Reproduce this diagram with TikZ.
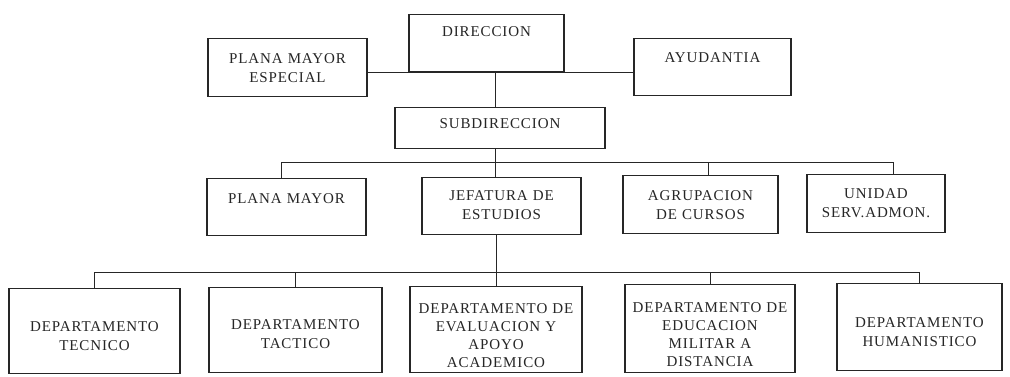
\documentclass[tikz,border=0pt]{standalone}
\usepackage{fontspec}
\setmainfont{Liberation Serif}
\newfontfamily\orgfont[LetterSpace=6]{Liberation Serif}
\definecolor{ink}{HTML}{262626}
\tikzset{
  orgbox/.style={draw=ink, line width=1.2pt, inner sep=0pt, align=center, anchor=north,
    text=ink, font=\orgfont\fontsize{15}{18.5}\selectfont},
  tight/.style={font=\orgfont\fontsize{15}{18}\selectfont},
  link/.style={draw=ink, line width=1pt}
}
\begin{document}
\begin{tikzpicture}[x=1pt,y=-1pt]
\fill[white] (0,0) rectangle (1010,377);
\useasboundingbox (0,0) rectangle (1010,377);

% top level
\node[orgbox, text width=155pt, text height=22pt, text depth=35pt] (dir) at (486.5,14) {DIRECCION};
\node[orgbox, text width=159pt, text height=25pt, text depth=33pt] (pme) at (287.5,38) {PLANA MAYOR\\ESPECIAL};
\node[orgbox, text width=157pt, text height=24pt, text depth=33pt] (ayu) at (712.5,38) {AYUDANTIA};
\node[orgbox, text width=210pt, text height=21pt, text depth=20pt] (sub) at (500,107) {SUBDIRECCION};

% middle row
\node[orgbox, text width=159pt, text height=25pt, text depth=32pt] (pm) at (286.5,178) {PLANA MAYOR};
\node[orgbox, text width=159pt, text height=23pt, text depth=34pt] (jef) at (501.5,177) {JEFATURA DE\\ESTUDIOS};
\node[orgbox, text width=155pt, text height=25pt, text depth=33pt] (agr) at (700.5,175) {AGRUPACION\\DE CURSOS};
\node[orgbox, text width=138pt, text height=24pt, text depth=34pt] (uni) at (876,174) {UNIDAD\\SERV.ADMON.};

% bottom row
\node[orgbox, text width=171pt, text height=43pt, text depth=42pt] (tec) at (94.5,288) {DEPARTAMENTO\\TECNICO};
\node[orgbox, text width=173pt, text height=42pt, text depth=43pt] (tac) at (295.5,287) {DEPARTAMENTO\\TACTICO};
\node[orgbox, tight, text width=172pt, text height=27pt, text depth=59pt] (eva) at (496,286) {DEPARTAMENTO DE\\EVALUACION Y\\APOYO\\ACADEMICO};
\node[orgbox, tight, text width=170pt, text height=28pt, text depth=60pt] (edu) at (710,284) {DEPARTAMENTO DE\\EDUCACION\\MILITAR A\\DISTANCIA};
\node[orgbox, text width=165pt, text height=44pt, text depth=43pt] (hum) at (919.5,283) {DEPARTAMENTO\\HUMANISTICO};

% connectors
\coordinate (spine) at (495,0);
\coordinate (busA) at (0,163);
\coordinate (busB) at (0,272);
\draw[link] (dir.south -| pme.east) -- (dir.south -| ayu.west);
\draw[link] (spine |- dir.south) -- (spine |- sub.north);
\draw[link] (spine |- sub.south) -- (spine |- jef.north);
\draw[link] ([xshift=-5.5pt]pm.north) -- ([xshift=-5.5pt]pm.north |- busA) -| ([xshift=17pt]uni.north);
\draw[link] ([xshift=7.5pt]agr.north) -- ([xshift=7.5pt]agr.north |- busA);
\draw[link] (eva.north |- jef.south) -- (eva.north);
\draw[link] (tec.north) -- (tec.north |- busB) -| (hum.north);
\draw[link] (tac.north) -- (tac.north |- busB);
\draw[link] (edu.north) -- (edu.north |- busB);
\end{tikzpicture}
\end{document}
